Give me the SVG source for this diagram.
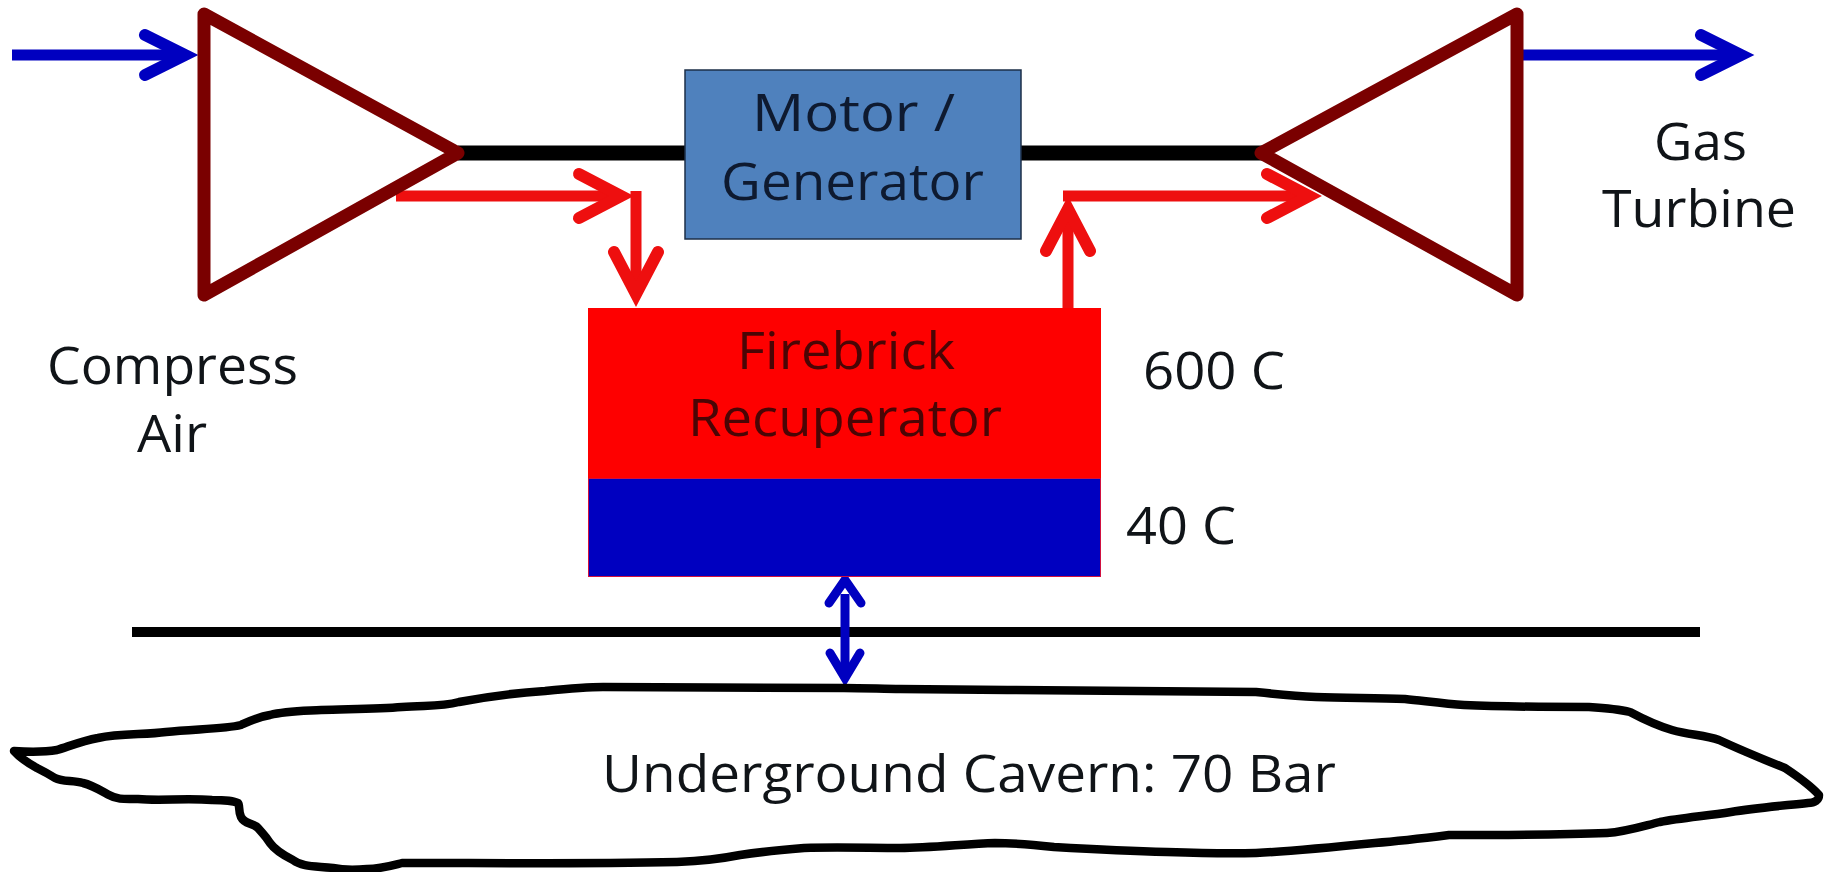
<svg xmlns="http://www.w3.org/2000/svg" width="1831" height="872" viewBox="0 0 1831 872">
  <style>
    text { font-family: "Open Sans", "Noto Sans", "Liberation Sans", sans-serif; font-size: 51px; fill: #101418; }
    .tri { fill: #fff; stroke: #7a0000; stroke-width: 13; stroke-linejoin: round; }
    .shaft { fill: none; stroke: #000; stroke-width: 15; }
    .blue { fill: none; stroke: #0000c0; stroke-width: 11; }
    .red { fill: none; stroke: #ee0f0f; stroke-width: 11; }
    .chev { fill: none; stroke-width: 12; stroke-linecap: round; stroke-linejoin: miter; stroke-miterlimit: 10; }
    .onred { fill: #4a0505; }
    .onblue { fill: #0e1a30; }
  </style>
  <defs>
    <marker id="headBlue" markerUnits="userSpaceOnUse" viewBox="-70 -35 80 70" refX="-16" refY="0" markerWidth="80" markerHeight="70" orient="auto">
      <path class="chev" stroke="#0000c0" d="M-53,-20 L-13,0 L-53,20"/>
    </marker>
    <marker id="headRed" markerUnits="userSpaceOnUse" viewBox="-70 -35 80 70" refX="-16" refY="0" markerWidth="80" markerHeight="70" orient="auto">
      <path class="chev" stroke="#ee0f0f" d="M-55,-22 L-13,0 L-55,22"/>
    </marker>
    <marker id="headSmall" markerUnits="userSpaceOnUse" viewBox="-70 -35 80 70" refX="-16" refY="0" markerWidth="80" markerHeight="70" orient="auto">
      <path class="chev" stroke="#0000c0" d="M-38,-15 L-13,0 L-38,15" style="stroke-width:9"/>
    </marker>
  </defs>
  <rect width="1831" height="872" fill="#fff"/>
  <g id="connectors">
    <line class="shaft" x1="458" y1="153" x2="690" y2="153"/>
    <line class="shaft" x1="1015" y1="153" x2="1262" y2="153"/>
    <line class="blue" x1="12" y1="55" x2="182" y2="55" marker-end="url(#headBlue)"/>
    <line class="blue" x1="1522" y1="55" x2="1738" y2="55" marker-end="url(#headBlue)"/>
    <line class="red" x1="396" y1="196" x2="618" y2="196" marker-end="url(#headRed)"/>
    <line class="red" x1="636" y1="191" x2="636" y2="291" marker-end="url(#headRed)"/>
    <line class="red" x1="1068" y1="312" x2="1068" y2="212" marker-end="url(#headRed)"/>
    <line class="red" x1="1063" y1="196" x2="1306" y2="196" marker-end="url(#headRed)"/>
    <line x1="132" y1="632" x2="1700" y2="632" stroke="#000" stroke-width="10"/>
    <line class="blue" x1="845" y1="594" x2="845" y2="675" style="stroke-width:9" marker-end="url(#headSmall)"/>
    <path class="chev" stroke="#0000c0" style="stroke-width:9" d="M829,603 L845,580 L861,603"/>
  </g>
  <g id="compressor">
    <polygon class="tri" points="204,14 458,153 204,295"/>
    <text x="47" y="384" textLength="251" lengthAdjust="spacingAndGlyphs">Compress</text>
    <text x="137" y="452" textLength="70" lengthAdjust="spacingAndGlyphs">Air</text>
  </g>
  <g id="turbine">
    <polygon class="tri" points="1517,14 1261,153 1517,295"/>
    <text x="1654" y="160" textLength="93" lengthAdjust="spacingAndGlyphs">Gas</text>
    <text x="1602" y="227" textLength="194" lengthAdjust="spacingAndGlyphs">Turbine</text>
  </g>
  <g id="motor-generator">
    <rect x="685" y="70" width="336" height="169" fill="#4f81bd" stroke="#1d2f48" stroke-width="1.5"/>
    <text class="onblue" x="752" y="131" textLength="203" lengthAdjust="spacingAndGlyphs">Motor /</text>
    <text class="onblue" x="721" y="200" textLength="263" lengthAdjust="spacingAndGlyphs">Generator</text>
  </g>
  <g id="firebrick-recuperator">
    <rect x="588" y="308" width="513" height="170" fill="#fe0000"/>
    <rect x="588.5" y="478.5" width="512" height="98" fill="#0000c0" stroke="#d01040" stroke-width="1"/>
    <text class="onred" x="737" y="369" textLength="218" lengthAdjust="spacingAndGlyphs">Firebrick</text>
    <text class="onred" x="688" y="436" textLength="314" lengthAdjust="spacingAndGlyphs">Recuperator</text>
    <text x="1143" y="389" textLength="142" lengthAdjust="spacingAndGlyphs">600 C</text>
    <text x="1126" y="544" textLength="110" lengthAdjust="spacingAndGlyphs">40 C</text>
  </g>
  <g id="cavern">
    <path fill="#fff" stroke="#000" stroke-width="8.5" stroke-linejoin="round" d="M14,751 C30,752 45,752 57,750 C70,746 82,741 98,738 C120,733 145,735 166,732 C195,729 225,729 241,725 C252,720 258,717 270,715 C285,711 303,711 321,710 C350,709 378,709 402,707 C425,705 440,707 459,702 C490,696 515,693 545,691 C565,689 585,687 603,687 C680,687 770,688 844,688 C865,688 885,689 900,689 C1020,690 1150,691 1256,692 C1275,694 1295,696 1316,697 C1345,698 1375,698 1405,699 C1425,701 1445,704 1464,705 C1505,707 1550,707 1589,707 C1605,708 1618,709 1630,712 C1645,720 1655,725 1672,730 C1690,735 1705,735 1719,740 C1745,752 1765,760 1785,768 C1800,778 1812,787 1819,795 C1819,800 1815,803 1808,803 C1780,806 1755,808 1731,812 C1705,816 1680,818 1660,822 C1640,827 1625,832 1607,833 C1555,835 1500,835 1449,835 C1425,838 1400,841 1375,843 C1335,847 1295,851 1256,853 C1225,854 1195,853 1167,852 C1130,851 1090,849 1054,847 C1035,845 1015,843 995,843 C965,844 930,848 900,848 C870,848 835,847 804,848 C780,850 760,852 740,855 C720,859 700,861 677,862 C585,864 490,863 402,863 C390,866 380,869 367,869 C355,870 343,870 333,868 C315,866 302,867 293,860 C283,855 275,850 270,843 C265,835 264,835 258,828 C252,822 245,825 241,817 C238,810 240,805 238,803 C232,800 222,800 212,800 C185,798 160,801 138,799 C125,799 118,800 109,795 C100,790 92,785 83,783 C73,780 63,782 55,778 C47,773 43,771 37,768 C28,763 20,758 14,751 Z"/>
    <text x="602" y="792" textLength="734" lengthAdjust="spacingAndGlyphs">Underground Cavern: 70 Bar</text>
  </g>
</svg>
